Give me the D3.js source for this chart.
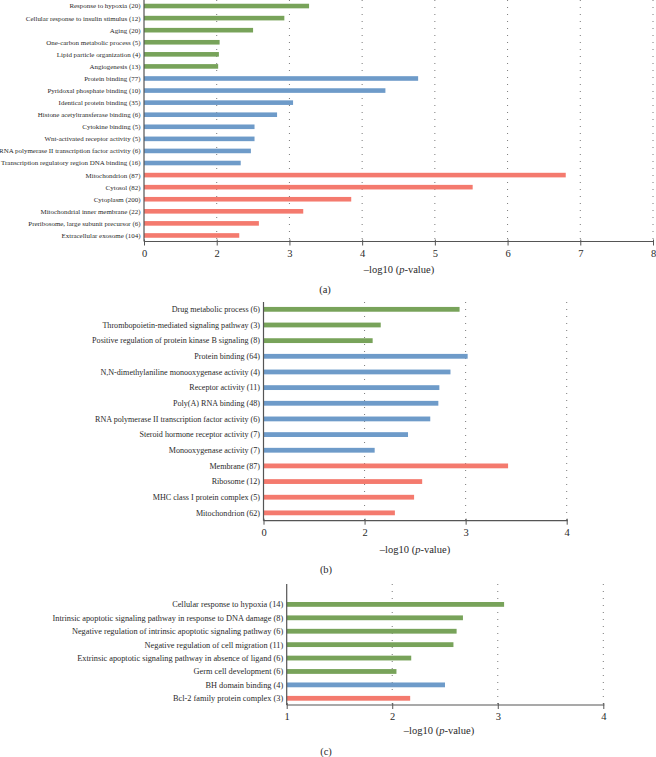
<!DOCTYPE html>
<html><head><meta charset="utf-8">
<script src="https://cdn.jsdelivr.net/npm/d3@7"></script>
<style>body{margin:0;background:#fff}svg{display:block}text{font-family:"Liberation Serif","DejaVu Serif",serif;fill:#2a2a2a}</style>
</head><body>
<script>
// ---- data ----
const aTerms = ["Response to hypoxia (20)","Cellular response to insulin stimulus (12)","Aging (20)","One-carbon metabolic process (5)","Lipid particle organization (4)","Angiogenesis (13)","Protein binding (77)","Pyridoxal phosphate binding (10)","Identical protein binding (35)","Histone acetyltransferase binding (6)","Cytokine binding (5)","Wnt-activated receptor activity (5)","RNA polymerase II transcription factor activity (6)","Transcription regulatory region DNA binding (16)","Mitochondrion (87)","Cytosol (82)","Cytoplasm (200)","Mitochondrial inner membrane (22)","Preribosome, large subunit precursor (6)","Extracellular exosome (104)"];
const aValues = [3.27,2.93,2.50,2.04,2.03,2.02,4.77,4.32,3.05,2.83,2.52,2.52,2.47,2.33,6.80,5.52,3.85,3.19,2.58,2.31];
const aGroups = ["BP","BP","BP","BP","BP","BP","MF","MF","MF","MF","MF","MF","MF","MF","CC","CC","CC","CC","CC","CC"];
const aTicks = [1,2,3,4,5,6,7,8];
const aTickLabels = ["0","2","3","4","5","6","7","8"];

const bTerms = ["Drug metabolic process (6)","Thrombopoietin-mediated signaling pathway (3)","Positive regulation of protein kinase B signaling (8)","Protein binding (64)","N,N-dimethylaniline monooxygenase activity (4)","Receptor activity (11)","Poly(A) RNA binding (48)","RNA polymerase II transcription factor activity (6)","Steroid hormone receptor activity (7)","Monooxygenase activity (7)","Membrane (87)","Ribosome (12)","MHC class I protein complex (5)","Mitochondrion (62)"];
const bValues = [2.94,2.16,2.08,3.02,2.85,2.74,2.73,2.65,2.43,2.10,3.42,2.57,2.49,2.30];
const bGroups = ["BP","BP","BP","MF","MF","MF","MF","MF","MF","MF","CC","CC","CC","CC"];
const bTicks = [1,2,3,4];
const bTickLabels = ["0","2","3","4"];

const cTerms = ["Cellular response to hypoxia (14)","Intrinsic apoptotic signaling pathway in response to DNA damage (8)","Negative regulation of intrinsic apoptotic signaling pathway (6)","Negative regulation of cell migration (11)","Extrinsic apoptotic signaling pathway in absence of ligand (6)","Germ cell development (6)","BH domain binding (4)","Bcl-2 family protein complex (3)"];
const cValues = [3.06,2.67,2.61,2.58,2.18,2.04,2.50,2.17];
const cGroups = ["BP","BP","BP","BP","BP","BP","MF","CC"];
const cTicks = [1,2,3,4];
const cTickLabels = ["1","2","3","4"];

const groupNames = ["BP","MF","CC"];
const groupColors = ["#78a35a","#6e9bc9","#f47a6e"];

// ---- drawing ----
const W = 656, H = 757;
const svg = d3.select("body").append("svg").attr("width", W).attr("height", H);
const color = d3.scaleOrdinal().domain(groupNames).range(groupColors);

const panels = [
  {terms:aTerms, values:aValues, groups:aGroups, ticks:aTicks, tickLabels:aTickLabels, domain:[1,8],
   x0:144, x1:653, top:0, bandTop:0, axisY:241.5, labelSize:6.95, barH:4.6, xlabX:399, xlabY:273, cap:"(a)", capX:325, capY:293},
  {terms:bTerms, values:bValues, groups:bGroups, ticks:bTicks, tickLabels:bTickLabels, domain:[1,4],
   x0:263.5, x1:566.7, top:302, bandTop:301.5, axisY:520.7, labelSize:8.1, barH:4.8, xlabX:415, xlabY:553, cap:"(b)", capX:326, capY:573},
  {terms:cTerms, values:cValues, groups:cGroups, ticks:cTicks, tickLabels:cTickLabels, domain:[1,4],
   x0:286.7, x1:603.3, top:584, bandTop:597.7, axisY:705, labelSize:8.3, barH:4.8, xlabX:439, xlabY:734, cap:"(c)", capX:326, capY:755}
];

panels.forEach(p => {
  const g = svg.append("g");
  const x = d3.scaleLinear().domain(p.domain).range([p.x0, p.x1]);
  const n = p.terms.length;
  const step = (p.axisY - p.bandTop) / n;
  const pad = 1 - p.barH / step;
  const y = d3.scaleBand().domain(p.terms).range([p.bandTop, p.axisY]).paddingInner(pad).paddingOuter(pad / 2);

  // dotted grid lines
  g.selectAll("line.grid").data(p.ticks.slice(1)).join("line")
    .attr("class","grid")
    .attr("x1", d => x(d)).attr("x2", d => x(d))
    .attr("y1", p.top).attr("y2", p.axisY)
    .attr("stroke", "#7a7a7a").attr("stroke-width", 1)
    .attr("stroke-dasharray", "1,6");

  // bars
  g.selectAll("rect.bar").data(p.terms).join("rect")
    .attr("class","bar")
    .attr("x", x(p.domain[0]))
    .attr("y", d => y(d))
    .attr("width", (d,i) => x(p.values[i]) - x(p.domain[0]))
    .attr("height", y.bandwidth())
    .attr("fill", (d,i) => color(p.groups[i]));

  // category labels
  g.selectAll("text.term").data(p.terms).join("text")
    .attr("class","term")
    .attr("x", p.x0 - 3.5)
    .attr("y", d => y(d) + y.bandwidth() / 2)
    .attr("dy", "0.35em")
    .attr("text-anchor", "end")
    .attr("font-size", p.labelSize)
    .text(d => d);

  // y axis line
  g.append("line")
    .attr("x1", p.x0).attr("x2", p.x0)
    .attr("y1", p.top).attr("y2", p.axisY)
    .attr("stroke", "#555").attr("stroke-width", 1.2);

  // x axis
  const ax = d3.axisBottom(x).tickValues(p.ticks)
    .tickFormat((d,i) => p.tickLabels[i]).tickSize(4).tickPadding(4);
  const axg = g.append("g").attr("transform", `translate(0,${p.axisY})`).call(ax);
  axg.select(".domain").attr("stroke", "#555").attr("stroke-width", 1.2).attr("d", `M${p.x0},0H${p.x1 + 1}`);
  axg.selectAll(".tick line").attr("stroke", "#555").attr("y1", -2);
  axg.selectAll(".tick text").attr("font-size", 10.5).attr("font-family", "Liberation Serif, serif").attr("fill", "#222");

  // x axis title
  const t = g.append("text").attr("x", p.xlabX).attr("y", p.xlabY)
    .attr("text-anchor", "middle").attr("font-size", 10.5);
  t.append("tspan").text("\u2013log10 (");
  t.append("tspan").attr("font-style", "italic").text("p");
  t.append("tspan").text("-value)");

  // caption
  g.append("text").attr("x", p.capX).attr("y", p.capY)
    .attr("text-anchor", "middle").attr("font-size", 10.5).text(p.cap);
});
</script>
</body></html>
